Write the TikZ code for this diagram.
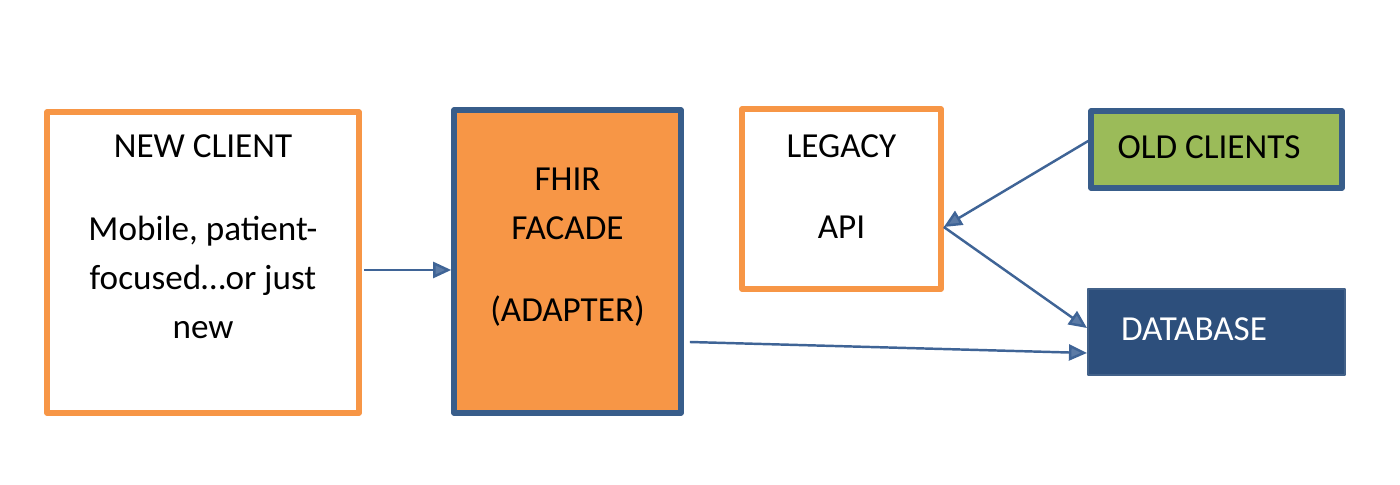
\documentclass[tikz,border=0pt]{standalone}
\usepackage{fontspec}
\setmainfont{Carlito}
\usetikzlibrary{arrows.meta}
\definecolor{facadeorange}{HTML}{F79646}
\definecolor{boxblue}{HTML}{385D8A}
\definecolor{dbblue}{HTML}{2D4F7C}
\definecolor{oldgreen}{HTML}{9BBB59}
\definecolor{arrowblue}{HTML}{3F6496}
\begin{document}
\begin{tikzpicture}[font=\fontsize{10}{12}\selectfont, line join=round,
		box/.style={draw, line width=1.6pt, inner sep=0pt},
		txt/.style={anchor=base, inner sep=0pt},
		link/.style={draw=arrowblue, line width=0.7pt, -{Triangle[length=0.18cm, width=0.16cm, fill=arrowblue!85]}}]
		\useasboundingbox (0,0) rectangle (14,4.85);
		% boxes
		\node[box, draw=facadeorange, fill=white, minimum width=3.12cm, minimum height=3.01cm] (newclient) at (2.03,2.225) {};
		\node[box, draw=boxblue, fill=facadeorange, minimum width=2.27cm, minimum height=3.03cm] (facade) at (5.675,2.235) {};
		\node[box, draw=facadeorange, fill=white, minimum width=1.99cm, minimum height=1.80cm] (legacy) at (8.415,2.86) {};
		\node[box, draw=boxblue, fill=oldgreen, minimum width=2.51cm, minimum height=0.77cm] (oldclients) at (12.165,3.355) {};
		\node[box, draw=dbblue!90!white, line width=0.6pt, fill=dbblue, minimum width=2.57cm, minimum height=0.86cm] (database) at (12.165,1.53) {};
		% texts
		\node[txt] (ncTitle) at (2.03,3.27) {NEW CLIENT};
		\node[txt] (ncLineA) at (2.03,2.44) {Mobile, patient-};
		\node[txt] (ncLineB) at (2.03,1.95) {focused…or just};
		\node[txt] (ncLineC) at (2.03,1.46) {new};
		\node[txt] (fhirA) at (5.675,2.94) {FHIR};
		\node[txt] (fhirB) at (5.675,2.45) {FACADE};
		\node[txt] (fhirC) at (5.675,1.63) {(ADAPTER)};
		\node[txt] (legacyA) at (8.415,3.27) {LEGACY};
		\node[txt] (legacyB) at (8.415,2.46) {API};
		\node[txt] (oldText) at (12.09,3.26) {OLD CLIENTS};
		\node[txt, text=white] (dbText) at (11.94,1.44) {DATABASE};
		% connectors
		\coordinate (clientPort) at ([xshift=0.02cm, yshift=-0.075cm]newclient.east);
		\coordinate (apiPort) at ([yshift=-0.28cm]legacy.east);
		\draw[link] (clientPort) -- (clientPort -| facade.west);
		\draw[link] ([yshift=0.085cm]oldclients.west) -- (apiPort);
		\draw[link] (apiPort) -- ([yshift=0.04cm]database.west);
		\draw[link] ([xshift=0.06cm, yshift=-0.805cm]facade.east) -- ([yshift=-0.21cm]database.west);
\end{tikzpicture}
\end{document}
